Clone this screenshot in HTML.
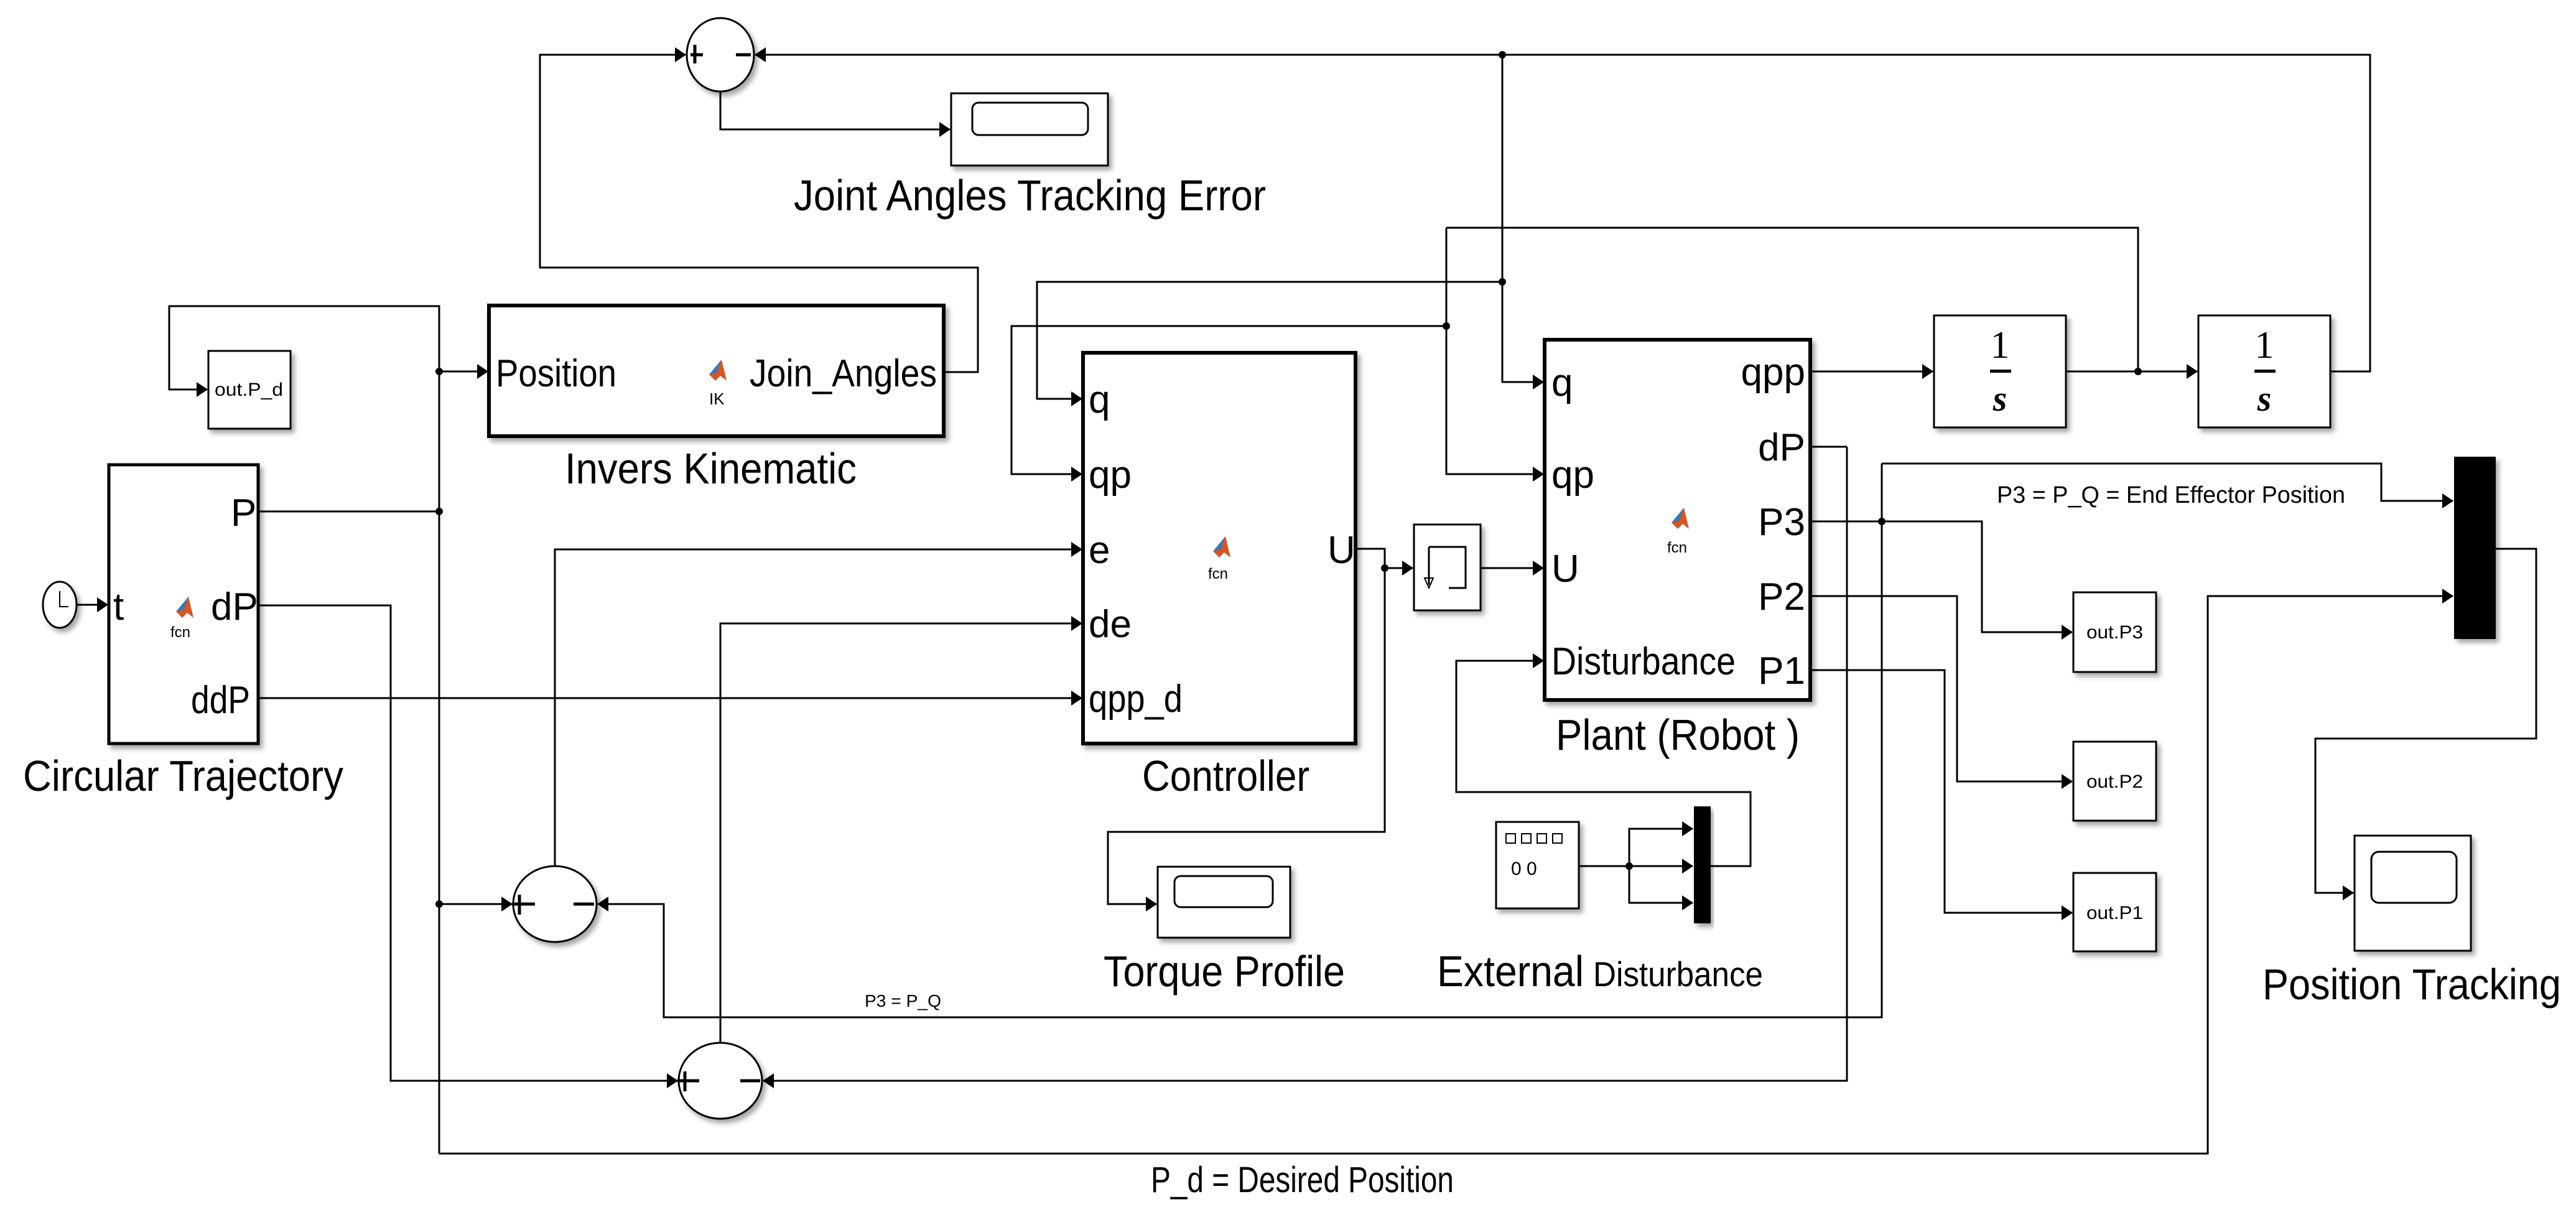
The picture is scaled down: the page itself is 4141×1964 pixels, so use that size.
<!DOCTYPE html>
<html><head><meta charset="utf-8"><style>html,body{margin:0;padding:0;background:#fff}svg{display:block}</style></head>
<body>
<svg xmlns="http://www.w3.org/2000/svg" width="4141" height="1964" viewBox="0 0 4141 1964" font-family="'Liberation Sans', sans-serif">
<defs>
<marker id="a" markerWidth="18" markerHeight="24" refX="17" refY="12" orient="auto" markerUnits="userSpaceOnUse"><path d="M0,0 L18,12 L0,24 Z" fill="#000"/></marker>
<filter id="sh" x="-10%" y="-10%" width="130%" height="130%"><feDropShadow dx="5" dy="6" stdDeviation="4" flood-color="#000" flood-opacity="0.35"/></filter>
</defs>
<rect width="4141" height="1964" fill="#fff"/>
<g fill="none" stroke="#000" stroke-width="3">
<polyline points="1517,598 1572,598 1572,430 868,430 868,88 1102,88" marker-end="url(#a)"/>
<polyline points="3746,597 3810,597 3810,88 1214,88" marker-end="url(#a)"/>
<polyline points="1158,147 1158,208 1527,208" marker-end="url(#a)"/>
<polyline points="2415,88 2415,614 2481,614" marker-end="url(#a)"/>
<polyline points="2415,453 1667,453 1667,641 1739,641" marker-end="url(#a)"/>
<polyline points="2325,366 3437,366 3437,597"/>
<polyline points="2325,366 2325,762 2481,762" marker-end="url(#a)"/>
<polyline points="2325,524 1626,524 1626,762 1739,762" marker-end="url(#a)"/>
<polyline points="2910,597 3107,597" marker-end="url(#a)"/>
<polyline points="3321,597 3532,597" marker-end="url(#a)"/>
<polyline points="706,1854 706,492 272,492 272,626 333,626" marker-end="url(#a)"/>
<polyline points="706,597 784,597" marker-end="url(#a)"/>
<polyline points="415,822 706,822"/>
<polyline points="706,1453 823,1453" marker-end="url(#a)"/>
<polyline points="123,972 173,972" marker-end="url(#a)"/>
<polyline points="415,973 628,973 628,1737 1089,1737" marker-end="url(#a)"/>
<polyline points="415,1122 1739,1122" marker-end="url(#a)"/>
<polyline points="892,1392 892,883 1739,883" marker-end="url(#a)"/>
<polyline points="1158,1678 1158,1002 1739,1002" marker-end="url(#a)"/>
<polyline points="3025,745 3025,1635 1067,1635 1067,1453 961,1453" marker-end="url(#a)"/>
<polyline points="2969,718 2910,718"/>
<polyline points="2969,718 2969,1737 1227,1737" marker-end="url(#a)"/>
<polyline points="706,1854 3549,1854 3549,958 3943,958" marker-end="url(#a)"/>
<polyline points="3025,745 3828,745 3828,805 3943,805" marker-end="url(#a)"/>
<polyline points="2181,882 2226,882 2226,1337 1781,1337 1781,1453 1859,1453" marker-end="url(#a)"/>
<polyline points="2226,913 2271,913" marker-end="url(#a)"/>
<polyline points="2380,913 2481,913" marker-end="url(#a)"/>
<polyline points="2750,1392 2814,1392 2814,1273 2341,1273 2341,1062 2481,1062" marker-end="url(#a)"/>
<polyline points="2538,1392 2721,1392" marker-end="url(#a)"/>
<polyline points="2619,1392 2619,1332 2721,1332" marker-end="url(#a)"/>
<polyline points="2619,1392 2619,1451 2721,1451" marker-end="url(#a)"/>
<polyline points="2910,838 3186,838 3186,1016 3331,1016" marker-end="url(#a)"/>
<polyline points="2910,958 3146,958 3146,1256 3331,1256" marker-end="url(#a)"/>
<polyline points="2910,1077 3126,1077 3126,1467 3331,1467" marker-end="url(#a)"/>
<polyline points="4012,882 4077,882 4077,1187 3722,1187 3722,1435 3783,1435" marker-end="url(#a)"/>
</g>
<g fill="#000">
<circle cx="2415" cy="88" r="6"/><circle cx="2415" cy="453" r="6"/><circle cx="2325" cy="524" r="6"/>
<circle cx="3437" cy="597" r="6"/><circle cx="706" cy="597" r="6"/><circle cx="706" cy="822" r="6"/>
<circle cx="706" cy="1453" r="6"/><circle cx="2226" cy="913" r="6"/><circle cx="3025" cy="838" r="6"/><circle cx="2619" cy="1392" r="6"/>
</g>
<g fill="#fff" stroke="#000" filter="url(#sh)">
<rect x="786" y="491" width="731" height="210" stroke-width="6"/>
<rect x="175" y="747" width="240" height="448" stroke-width="5"/>
<rect x="1741" y="567" width="438" height="628" stroke-width="6"/>
<rect x="2483" y="546" width="427" height="579" stroke-width="6"/>
<rect x="335" y="564" width="132" height="125" stroke-width="3"/>
<rect x="1529" y="150" width="252" height="116" stroke-width="3"/>
<rect x="1861" y="1393" width="213" height="114" stroke-width="3"/>
<rect x="3785" y="1343" width="187" height="185" stroke-width="3"/>
<rect x="3109" y="507" width="212" height="180" stroke-width="3"/>
<rect x="3534" y="507" width="212" height="180" stroke-width="3"/>
<rect x="2273" y="843" width="107" height="138" stroke-width="3"/>
<rect x="2405" y="1321" width="133" height="139" stroke-width="3"/>
<rect x="3333" y="952" width="133" height="128" stroke-width="3"/>
<rect x="3333" y="1192" width="133" height="127" stroke-width="3"/>
<rect x="3333" y="1403" width="133" height="126" stroke-width="3"/>
<ellipse cx="1158" cy="88" rx="54" ry="59" stroke-width="3"/>
<ellipse cx="892" cy="1453" rx="67" ry="61" stroke-width="3"/>
<ellipse cx="1158" cy="1737" rx="67" ry="61" stroke-width="3"/>
<ellipse cx="96" cy="972" rx="27" ry="37" stroke-width="3"/>
</g>
<rect x="2723" y="1296" width="27" height="188" fill="#000" filter="url(#sh)"/>
<rect x="3945" y="734" width="67" height="293" fill="#000" filter="url(#sh)"/>
<g fill="none" stroke="#000" stroke-width="3">
<rect x="1563" y="165" width="186" height="52" rx="10"/>
<rect x="1888" y="1408" width="158" height="50" rx="10"/>
<rect x="3812" y="1369" width="137" height="82" rx="12"/>
<path d="M1110,88 H1130 M1117,72 V102 M1183,88 H1207" stroke-width="5"/>
<path d="M823,1453 H860 M835,1438 V1470 M922,1453 H955" stroke-width="5"/>
<path d="M1089,1737 H1124 M1101,1722 V1754 M1190,1737 H1222" stroke-width="5"/>
<path d="M96,950 V975 H110" stroke-width="2"/>
<path d="M2297,879 H2356 V945 H2329 M2297,879 V940" stroke-width="3"/>
<path d="M2290,929 L2304,929 L2297,945 Z" stroke-width="2"/>
<rect x="2421" y="1340" width="15" height="15" stroke-width="2"/>
<rect x="2446" y="1340" width="15" height="15" stroke-width="2"/>
<rect x="2471" y="1340" width="15" height="15" stroke-width="2"/>
<rect x="2496" y="1340" width="15" height="15" stroke-width="2"/>
</g>
<g font-family="'Liberation Serif', serif" text-anchor="middle">
<text x="3215" y="575" font-size="62">1</text><rect x="3199" y="594" width="34" height="5" fill="#000"/>
<text x="3215" y="660" font-size="58" font-style="italic" font-weight="bold">s</text>
<text x="3640" y="575" font-size="62">1</text><rect x="3624" y="594" width="34" height="5" fill="#000"/>
<text x="3640" y="660" font-size="58" font-style="italic" font-weight="bold">s</text>
</g>
<g>
<path d="M1140,602 L1160,578 L1168,612 L1158,604 L1150,612 Z" fill="#d9541e"/><path d="M1140,602 L1160,578 L1152,600 Z" fill="#2e7bc4"/>
<path d="M283,983 L303,959 L311,993 L301,985 L293,993 Z" fill="#d9541e"/><path d="M283,983 L303,959 L295,981 Z" fill="#2e7bc4"/>
<path d="M1950,886 L1970,862 L1978,896 L1968,888 L1960,896 Z" fill="#d9541e"/><path d="M1950,886 L1970,862 L1962,884 Z" fill="#2e7bc4"/>
<path d="M2687,840 L2707,816 L2715,850 L2705,842 L2697,850 Z" fill="#d9541e"/><path d="M2687,840 L2707,816 L2699,838 Z" fill="#2e7bc4"/>
</g>
<g fill="#000">
<text x="1276" y="338" font-size="70" textLength="759" lengthAdjust="spacingAndGlyphs">Joint Angles Tracking Error</text>
<text x="797" y="621" font-size="62" textLength="194" lengthAdjust="spacingAndGlyphs">Position</text>
<text x="1205" y="621" font-size="62" textLength="301" lengthAdjust="spacingAndGlyphs">Join_Angles</text>
<text x="1140" y="650" font-size="26">IK</text>
<text x="908" y="777" font-size="70" textLength="469" lengthAdjust="spacingAndGlyphs">Invers Kinematic</text>
<text x="345" y="636" font-size="30" textLength="110" lengthAdjust="spacingAndGlyphs">out.P_d</text>
<text x="371" y="845" font-size="62">P</text>
<text x="339" y="996" font-size="62">dP</text>
<text x="307" y="1146" font-size="62" textLength="95" lengthAdjust="spacingAndGlyphs">ddP</text>
<text x="182" y="996" font-size="62">t</text>
<text x="274" y="1024" font-size="24">fcn</text>
<text x="37" y="1271" font-size="70" textLength="515" lengthAdjust="spacingAndGlyphs">Circular Trajectory</text>
<text x="1750" y="663" font-size="62">q</text>
<text x="1750" y="784" font-size="62">qp</text>
<text x="1750" y="905" font-size="62">e</text>
<text x="1750" y="1024" font-size="62">de</text>
<text x="1750" y="1144" font-size="62" textLength="151" lengthAdjust="spacingAndGlyphs">qpp_d</text>
<text x="1942" y="930" font-size="24">fcn</text>
<text x="2134" y="905" font-size="62">U</text>
<text x="1836" y="1271" font-size="70" textLength="269" lengthAdjust="spacingAndGlyphs">Controller</text>
<text x="2494" y="636" font-size="62">q</text>
<text x="2494" y="784" font-size="62">qp</text>
<text x="2494" y="935" font-size="62">U</text>
<text x="2494" y="1084" font-size="62" textLength="296" lengthAdjust="spacingAndGlyphs">Disturbance</text>
<g text-anchor="end">
<text x="2902" y="619" font-size="62">qpp</text>
<text x="2902" y="740" font-size="62">dP</text>
<text x="2902" y="860" font-size="62">P3</text>
<text x="2902" y="980" font-size="62">P2</text>
<text x="2902" y="1099" font-size="62">P1</text>
</g>
<text x="2680" y="888" font-size="24">fcn</text>
<text x="2501" y="1205" font-size="70" textLength="392" lengthAdjust="spacingAndGlyphs">Plant (Robot )</text>
<text x="1774" y="1585" font-size="70" textLength="388" lengthAdjust="spacingAndGlyphs">Torque Profile</text>
<text x="2310" y="1585" font-size="70" textLength="236" lengthAdjust="spacingAndGlyphs">External</text>
<text x="2561" y="1585" font-size="56" textLength="273" lengthAdjust="spacingAndGlyphs">Disturbance</text>
<text x="3637" y="1606" font-size="70" textLength="480" lengthAdjust="spacingAndGlyphs">Position Tracking</text>
<text x="3210" y="808" font-size="38" textLength="560" lengthAdjust="spacingAndGlyphs">P3  = P_Q = End Effector Position</text>
<text x="1390" y="1618" font-size="28" textLength="123" lengthAdjust="spacingAndGlyphs">P3  = P_Q</text>
<text x="1850" y="1916" font-size="58" textLength="487" lengthAdjust="spacingAndGlyphs">P_d = Desired Position</text>
<text x="3354" y="1026" font-size="30" textLength="91" lengthAdjust="spacingAndGlyphs">out.P3</text>
<text x="3354" y="1266" font-size="30" textLength="91" lengthAdjust="spacingAndGlyphs">out.P2</text>
<text x="3354" y="1477" font-size="30" textLength="91" lengthAdjust="spacingAndGlyphs">out.P1</text>
<text x="2429" y="1406" font-size="30">0 0</text>
</g>
</svg>
</body></html>
